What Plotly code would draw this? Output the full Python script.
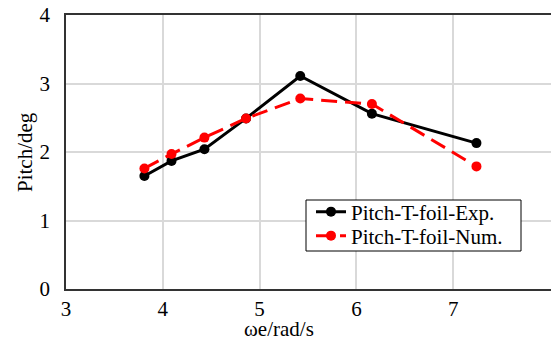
import plotly.graph_objects as go

omega_exp = [3.81, 4.09, 4.43, 4.86, 5.42, 6.16, 7.24]
pitch_exp = [1.65, 1.87, 2.04, 2.49, 3.11, 2.56, 2.13]
omega_num = [3.81, 4.09, 4.43, 4.86, 5.42, 6.16, 7.24]
pitch_num = [1.76, 1.97, 2.21, 2.49, 2.78, 2.70, 1.79]

x_ticks = [3, 4, 5, 6, 7, 8]
y_ticks = [0, 1, 2, 3, 4]

FONT = "Liberation Serif, Times New Roman, serif"
FS = 21
LFS = 21

# plot area in pixels
L, R, T, B = 66, 551, 15, 289
PW, PH = R - L, B - T

def px(xp):
    return (xp - L) / PW

def py(yp):
    return (B - yp) / PH

fig = go.Figure()
fig.add_trace(go.Scatter(
    x=omega_exp, y=pitch_exp, mode="lines+markers", name="Pitch-T-foil-Exp.",
    line=dict(color="black", width=3), marker=dict(color="black", size=10),
    legend="legend"))
fig.add_trace(go.Scatter(
    x=omega_num, y=pitch_num, mode="lines+markers", name="Pitch-T-foil-Num.",
    line=dict(color="#ff0000", width=3, dash="16px,8px"), marker=dict(color="#ff0000", size=10),
    legend="legend2"))

leg_common = dict(xanchor="left", yanchor="middle", bgcolor="rgba(0,0,0,0)",
                  borderwidth=0, font=dict(family=FONT, size=LFS), itemwidth=30)

fig.update_layout(
    width=551, height=340,
    margin=dict(l=L, r=551 - R, t=T, b=340 - B),
    paper_bgcolor="white", plot_bgcolor="white",
    font=dict(family=FONT, size=FS, color="black"),
    showlegend=True,
    legend=dict(x=px(311), y=py(212), **leg_common),
    legend2=dict(x=px(311), y=py(236), **leg_common),
    xaxis=dict(range=[3, 8.01], tickvals=x_ticks, ticktext=[str(v) for v in x_ticks],
               showgrid=True, gridcolor="#d9d9d9", gridwidth=1.5,
               showline=True, linecolor="#333333", linewidth=1.5, mirror=True,
               ticks="", zeroline=False, automargin=False,
               ticklabelstandoff=0,
               tickfont=dict(family=FONT, size=FS)),
    yaxis=dict(range=[0, 4], tickvals=y_ticks, ticktext=[str(v) for v in y_ticks],
               showgrid=True, gridcolor="#d9d9d9", gridwidth=1.5,
               showline=True, linecolor="#333333", linewidth=1.5,
               ticks="", zeroline=False, automargin=False,
               ticklabelstandoff=10,
               tickfont=dict(family=FONT, size=FS)),
)
# legend frame
fig.add_shape(type="rect", xref="paper", yref="paper",
              x0=px(306), x1=px(521), y0=py(251), y1=py(200),
              line=dict(color="black", width=1), fillcolor="white", layer="above")
fig.add_annotation(text="ωe/rad/s", xref="paper", yref="paper", x=px(279),
                   y=py(329), xanchor="center", yanchor="middle", showarrow=False,
                   font=dict(family=FONT, size=FS, color="black"))
fig.add_annotation(text="Pitch/deg", xref="paper", yref="paper", x=px(25),
                   y=py(152), xanchor="center", yanchor="middle", showarrow=False,
                   textangle=-90, font=dict(family=FONT, size=FS, color="black"))

fig.write_html("out.html")
